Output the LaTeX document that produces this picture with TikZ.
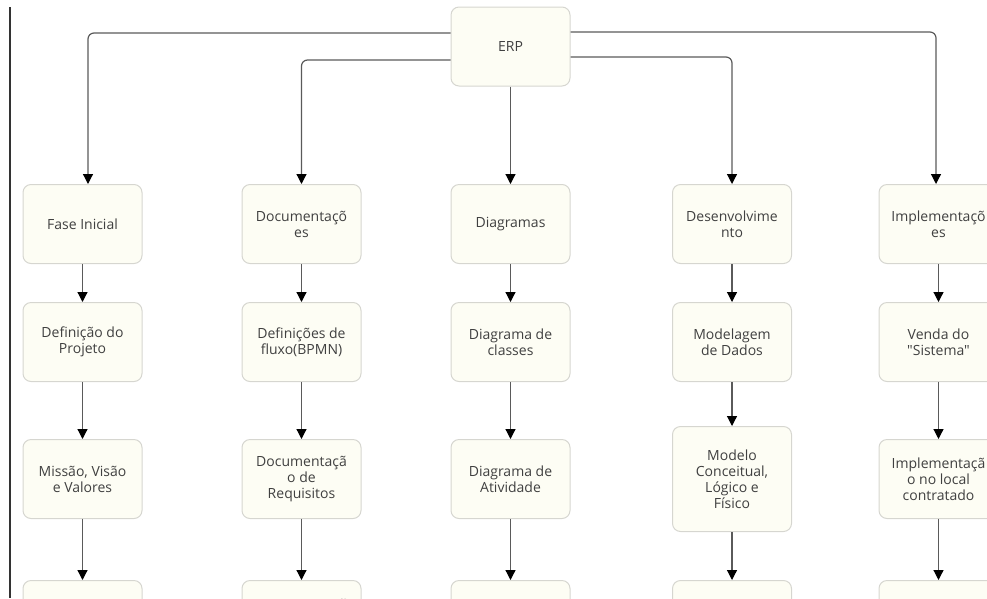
\documentclass[tikz,border=0pt]{standalone}
\usepackage{fontspec}
\setmainfont{Open Sans}[Ligatures=TeXOff]
\usetikzlibrary{arrows.meta, positioning}
\definecolor{boxfill}{HTML}{FDFDF4}
\definecolor{boxline}{HTML}{D6D6D0}
\definecolor{wire}{HTML}{5A5A5A}
\definecolor{txt}{HTML}{404040}
\tikzset{box/.style={rectangle,draw=boxline,fill=boxfill,rounded corners=8pt,line width=1pt,align=center,inner sep=2pt,minimum width=119pt,minimum height=79pt,text=txt,font=\fontsize{14}{16}\selectfont},line/.style={draw=wire,line width=1.2pt,rounded corners=6pt,-{Triangle[width=10pt,length=10pt,black]}}}

\begin{document}
\begin{tikzpicture}[x=1pt,y=1pt,node distance=38pt]
\useasboundingbox (0,0) rectangle (987,-598);
\clip (0,0) rectangle (987,-598);
\draw[line width=1.3pt,black!80] (10,-7) -- (10,-598);
\node[box] (erp) at (510.5,-46.5) {ERP};
% first row
\node[box] (ini) at (82.5,-224) {Fase Inicial};
\node[box] (doc) at (301.5,-224) {Documentaçõ\\es};
\node[box] (dia) at (510.5,-224) {Diagramas};
\node[box] (dev) at (732,-224) {Desenvolvime\\nto};
\node[box] (imp) at (938.5,-224) {Implementaçõ\\es};
% second row
\node[box, below=of ini] (ini2) {Definição do\\Projeto};
\node[box, below=of doc] (doc2) {Definições de\\fluxo(BPMN)};
\node[box, below=of dia] (dia2) {Diagrama de\\classes};
\node[box, below=of dev] (dev2) {Modelagem\\de Dados};
\node[box, below=of imp] (imp2) {Venda do\\"Sistema"};
% third row
\node[box, below=57pt of ini2] (ini3) {Missão, Visão\\e Valores};
\node[box, below=57pt of doc2] (doc3) {Documentaçã\\o de\\Requisitos};
\node[box, below=57pt of dia2] (dia3) {Diagrama de\\Atividade};
\node[box, below=44pt of dev2, minimum height=105pt] (dev3) {Modelo\\Conceitual,\\Lógico e\\Físico};
\node[box, below=57pt of imp2] (imp3) {Implementaçã\\o no local\\contratado};
% fourth row, cut by the frame
\node[box, below=61pt of ini3] (ini4) {};
\node[box, below=61pt of doc3, text depth=32pt] (doc4) {Documentaçã};
\node[box, below=61pt of dia3] (dia4) {};
\node[box, below=48pt of dev3] (dev4) {};
\node[box, below=61pt of imp3] (imp4) {};
\draw[line] ([yshift=13.5pt]erp.west) -| ([xshift=5.5pt]ini.north);
\draw[line] ([yshift=-13.5pt]erp.west) -| (doc.north);
\draw[line] (erp) -- (dia);
\draw[line] ([yshift=-10.5pt]erp.east) -| (dev.north);
\draw[line] ([yshift=14.5pt]erp.east) -| ([xshift=-2.5pt]imp.north);
\foreach \c in {ini,doc,dia,dev,imp} {
  \draw[line] (\c) -- (\c2);
  \draw[line] (\c2) -- (\c3);
  \draw[line] (\c3) -- (\c4);
}
\end{tikzpicture}
\end{document}
